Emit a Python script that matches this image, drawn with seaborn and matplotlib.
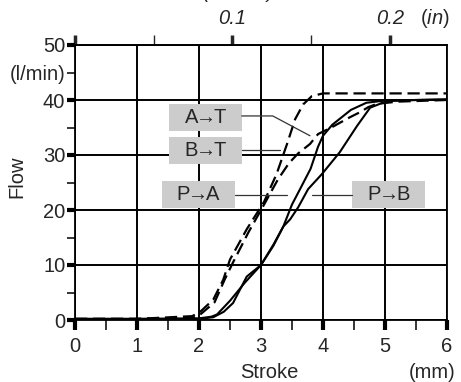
import numpy as np
import pandas as pd
import matplotlib
matplotlib.use("Agg")
import matplotlib.pyplot as plt
from matplotlib.patches import Rectangle
import seaborn as sns

# Flow vs stroke curves
stroke_at = [0, 1.0, 1.89, 2.02, 2.23, 2.39, 2.5, 2.77, 3.05, 3.25, 3.42, 3.55, 3.68, 3.82, 4.0, 6.0]
flow_at = [0.2, 0.2, 0.7, 1.5, 3.7, 7.3, 11.0, 16.5, 21.5, 26.5, 32.0, 36.5, 39.2, 40.7, 41.2, 41.2]

stroke_bt = [0, 1.0, 1.9, 2.02, 2.25, 2.42, 2.55, 2.8, 3.05, 3.27, 3.45, 3.6, 3.79, 3.92, 4.15, 4.44, 4.6, 4.73, 4.87, 5.2, 6.0]
flow_bt = [0.2, 0.2, 0.4, 1.0, 3.2, 7.5, 10.5, 16.0, 21.0, 25.5, 28.5, 30.3, 32.0, 33.8, 35.1, 36.9, 37.8, 38.7, 39.3, 39.7, 40.0]

stroke_pa = [0, 1.0, 2.0, 2.2, 2.29, 2.5, 2.74, 3.0, 3.2, 3.36, 3.5, 3.63, 3.8, 3.92, 4.0, 4.15, 4.45, 4.7, 5.0, 5.5, 6.0]
flow_pa = [0.2, 0.2, 0.3, 0.6, 1.0, 3.5, 6.8, 10.0, 13.5, 17.0, 21.0, 23.8, 27.5, 31.5, 33.5, 35.5, 38.2, 39.5, 39.9, 40.0, 40.1]

stroke_pb = [0, 1.0, 2.0, 2.23, 2.4, 2.55, 2.77, 3.0, 3.2, 3.36, 3.47, 3.6, 3.76, 3.98, 4.27, 4.55, 4.76, 5.03, 5.5, 6.0]
flow_pb = [0.2, 0.2, 0.2, 0.5, 1.5, 3.1, 7.9, 10.0, 13.7, 17.0, 18.3, 20.5, 23.8, 26.5, 30.5, 35.3, 38.6, 39.8, 40.0, 40.1]

x_ticks = [0, 1, 2, 3, 4, 5, 6]
y_ticks = [0, 10, 20, 30, 40, 50]
in_ticks = [0, 0.1, 0.2]
in_labels = ["", "0.1", "0.2"]

sns.set_style("white")
plt.rcParams["font.family"] = ["Liberation Sans", "DejaVu Sans"]
plt.rcParams["mathtext.fontset"] = "custom"
plt.rcParams["mathtext.it"] = "Liberation Sans:italic"
plt.rcParams["mathtext.rm"] = "Liberation Sans"

fs = 14.5
fig = plt.figure(figsize=(4.61, 3.82), dpi=100)
ax = fig.add_axes([75 / 461, 1 - 320 / 382, 372 / 461, 275 / 382])

# curves
sns.lineplot(x=stroke_at, y=flow_at, ax=ax, color="black", lw=1.6,
             estimator=None, sort=False)
sns.lineplot(x=stroke_bt, y=flow_bt, ax=ax, color="black", lw=1.6,
             estimator=None, sort=False)
sns.lineplot(x=stroke_pa, y=flow_pa, ax=ax, color="black", lw=1.5,
             estimator=None, sort=False)
sns.lineplot(x=stroke_pb, y=flow_pb, ax=ax, color="black", lw=1.5,
             estimator=None, sort=False)
ax.lines[0].set_dashes((5.5, 2.6))
ax.lines[1].set_dashes((5.5, 2.6))
for ln in ax.lines:
    ln.set_zorder(4)

ax.set_xlim(0, 6)
ax.set_ylim(0, 50)
ax.set_xticks(x_ticks)
ax.set_xticks(np.arange(0.5, 6, 1), minor=True)
ax.set_yticks(y_ticks)
ax.set_yticks([5, 15, 25, 35, 45], labels=["", "", "", "", "(l/min)"], minor=True)
ax.grid(True, which="major", color="black", lw=1.4)
ax.set_axisbelow(True)
for s in ax.spines.values():
    s.set_visible(True)
    s.set_color("black")
    s.set_linewidth(1.3)

ax.tick_params(which="major", direction="out", length=7, width=3, color="black",
               labelsize=fs, pad=5, bottom=True, left=True, top=False, right=False)
ax.tick_params(which="minor", direction="out", length=7, width=1.1, color="black",
               labelsize=fs, pad=5, bottom=True, left=True, top=False, right=False)
ax.tick_params(axis="y", which="both", length=6, pad=1)
ax.set_xlabel("")
ax.set_ylabel("")

# inch scale on top
secax = ax.secondary_xaxis("top", functions=(lambda v: v / 25.4, lambda v: v * 25.4))
secax.set_xticks(in_ticks, labels=in_labels)
secax.set_xticks([0.05, 0.15], minor=True)
secax.tick_params(which="major", direction="out", length=7, width=2.5, labelsize=fs, pad=5)
secax.tick_params(which="minor", direction="out", length=7, width=1.0)
for lab in secax.get_xticklabels():
    lab.set_style("italic")
secax.spines["top"].set_linewidth(1.3)

# labels with gray boxes and leader lines
labels = [r"A$\!\!\rightarrow\!\!$T", r"B$\!\!\rightarrow\!\!$T",
          r"P$\!\!\rightarrow\!\!$A", r"P$\!\!\rightarrow\!\!$B"]
label_x = [2.1, 2.1, 1.99, 5.06]
label_y = [36.9, 30.9, 22.8, 22.8]
for t, lx, ly in zip(labels, label_x, label_y):
    ax.add_patch(Rectangle((lx - 0.59, ly - 2.45), 1.18, 4.9, facecolor="#cccccc",
                           edgecolor="none", zorder=5))
    ax.text(lx, ly, t, ha="center", va="center", fontsize=fs, zorder=6)

lead = dict(color="#333333", lw=0.9, zorder=5)
ax.plot([2.69, 3.19, 3.79], [37.1, 37.1, 33.5], **lead)
ax.plot([2.69, 3.31], [30.9, 30.9], **lead)
ax.plot([2.58, 3.42], [22.7, 22.7], **lead)
ax.plot([3.82, 4.47], [22.7, 22.7], **lead)

fig.text(17 / 461, 1 - 177 / 382, "Flow", rotation=90, ha="center", va="center", fontsize=fs)
fig.text(269 / 461, 1 - 372 / 382, "Stroke", ha="center", va="center", fontsize=fs)
fig.text(455 / 461, 1 - 372 / 382, "(mm)", ha="right", va="center", fontsize=fs)
fig.text(450 / 461, 1 - 18 / 382, r"($\mathit{in}$)", ha="right", va="center", fontsize=fs)
fig.text(238 / 461, 1 + 2.0 / 382, "(Stroke)", ha="center", va="baseline", fontsize=fs,
         style="italic")

fig.savefig("out.png", dpi=100)
